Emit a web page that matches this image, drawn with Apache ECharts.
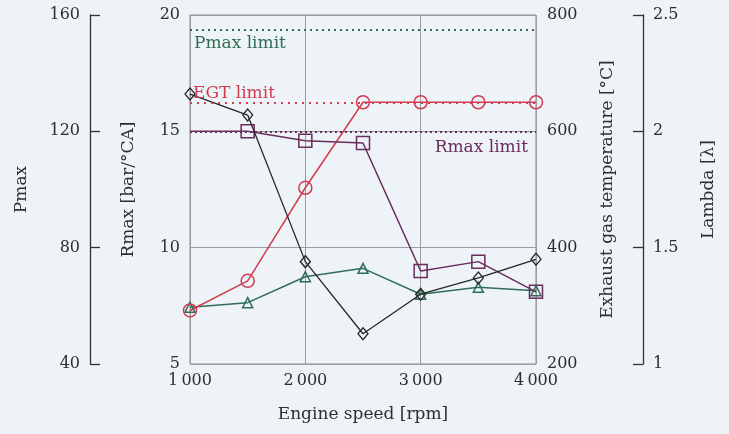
<!DOCTYPE html>
<html>
<head>
<meta charset="utf-8">
<script src="https://cdn.jsdelivr.net/npm/echarts@6/dist/echarts.min.js"></script>
<style>
  html, body { margin: 0; padding: 0; background: #eef3f8; }
  #chart { width: 729px; height: 434px; }
</style>
</head>
<body>
<div id="chart"></div>
<script>
// Engine operating map: peak pressure, pressure rise rate, exhaust temperature and lambda
const engineSpeed = [1000, 1500, 2000, 2500, 3000, 3500, 4000];
const pmax   = [59.5, 61.1, 70.0, 72.9, 64.0, 66.4, 65.2];
const rmax   = [15.0, 15.0, 14.6, 14.5, 9.0, 9.4, 8.1];
const egt    = [292, 343, 503, 650, 650, 650, 650];
const lambda = [2.16, 2.07, 1.44, 1.13, 1.30, 1.37, 1.45];

const pmaxLimit = 155;
const egtLimit = 650;
const rmaxLimit = 15;

const speedTicks = [1000, 2000, 3000, 4000];

const FONT = 'DejaVu Serif';
const TEXT = '#2e2e2e';
const RED = '#d23c52';
const GREEN = '#2f6e55';
const PURPLE = '#6a2c5c';
const BLACK = '#262626';
const GRID = '#9c9c9c';

const pairs = vals => engineSpeed.map((s, i) => [s, vals[i]]);
const fmtSpeed = v => String(v).replace(/\B(?=(\d{3})+$)/, '\u2009');

const tickLabel = { fontFamily: FONT, fontSize: 16, color: TEXT };
const nameLabel = { fontFamily: FONT, fontSize: 17, color: TEXT };

function limitLine(value, color, text, position, dash, distance) {
  return {
    silent: true,
    symbol: ['none', 'none'],
    lineStyle: { color: color, type: dash, width: 2, opacity: 1 },
    label: {
      show: true, position: position, formatter: text,
      fontFamily: FONT, fontSize: 17, color: color, distance: distance
    },
    data: [{ yAxis: value }]
  };
}

const chart = echarts.init(document.getElementById('chart'), null, { renderer: 'canvas' });
chart.setOption({
  backgroundColor: '#eef3f8',
  animation: false,
  grid: { left: 190, right: 193, top: 15, bottom: 70, show: true, borderColor: '#8a8a8a', borderWidth: 1, backgroundColor: 'transparent' },
  xAxis: {
    type: 'value', min: speedTicks[0], max: speedTicks[speedTicks.length - 1], interval: 1000,
    name: 'Engine speed [rpm]', nameLocation: 'middle', nameGap: 42,
    nameTextStyle: nameLabel,
    axisLine: { show: false }, axisTick: { show: false },
    axisLabel: Object.assign({ margin: 9, formatter: fmtSpeed }, tickLabel),
    splitLine: { show: true, lineStyle: { color: GRID, width: 1 } }
  },
  yAxis: [
    { // Rmax, on the plot frame
      type: 'value', position: 'left', min: 5, max: 20, interval: 5,
      name: 'Rmax [bar/°CA]', nameLocation: 'middle', nameGap: 53, nameRotate: 90,
      nameTextStyle: nameLabel,
      axisLine: { show: false }, axisTick: { show: false },
      axisLabel: Object.assign({ margin: 10 }, tickLabel),
      splitLine: { show: true, lineStyle: { color: GRID, width: 1 } }
    },
    { // Pmax, offset outer left axis
      type: 'value', position: 'left', offset: 100, min: 40, max: 160, interval: 40,
      name: 'Pmax', nameLocation: 'middle', nameGap: 60, nameRotate: 90,
      nameTextStyle: nameLabel,
      axisLine: { show: true, onZero: false, lineStyle: { color: '#333', width: 1.3 } },
      axisTick: { show: true, inside: true, length: 10, lineStyle: { color: '#333', width: 1.3 } },
      axisLabel: Object.assign({ margin: 10 }, tickLabel),
      splitLine: { show: false }
    },
    { // Exhaust gas temperature, on the plot frame
      type: 'value', position: 'right', min: 200, max: 800, interval: 200,
      name: 'Exhaust gas temperature [°C]', nameLocation: 'middle', nameGap: 63, nameRotate: 90,
      nameTextStyle: nameLabel,
      axisLine: { show: false }, axisTick: { show: false },
      axisLabel: Object.assign({ margin: 11 }, tickLabel),
      splitLine: { show: false }
    },
    { // Lambda, offset outer right axis
      type: 'value', position: 'right', offset: 107, min: 1, max: 2.5, interval: 0.5,
      name: 'Lambda [λ]', nameLocation: 'middle', nameGap: 57, nameRotate: 90,
      nameTextStyle: nameLabel,
      axisLine: { show: true, onZero: false, lineStyle: { color: '#333', width: 1.3 } },
      axisTick: { show: true, inside: true, length: 10, lineStyle: { color: '#333', width: 1.3 } },
      axisLabel: Object.assign({ margin: 10 }, tickLabel),
      splitLine: { show: false }
    }
  ],
  series: [
    {
      name: 'Pmax', type: 'line', yAxisIndex: 1, data: pairs(pmax),
      symbol: 'triangle', symbolSize: 10,
      lineStyle: { color: GREEN, width: 1.5 },
      itemStyle: { color: 'rgba(0,0,0,0)', borderColor: GREEN, borderWidth: 1.5 },
      markLine: limitLine(pmaxLimit, GREEN, 'Pmax limit', 'insideStartBottom', [2, 4], [4, 6]),
      z: 3
    },
    {
      name: 'EGT', type: 'line', yAxisIndex: 2, data: pairs(egt),
      symbol: 'circle', symbolSize: 13,
      lineStyle: { color: RED, width: 1.5 },
      itemStyle: { color: 'rgba(0,0,0,0)', borderColor: RED, borderWidth: 1.5 },
      markLine: limitLine(egtLimit, RED, 'EGT limit', 'insideStartTop', [2, 5], [3, 0]),
      z: 3
    },
    {
      name: 'Rmax', type: 'line', yAxisIndex: 0,
      data: pairs(rmax).map((p, i) => i === 0 ? { value: p, symbol: 'none' } : p),
      symbol: 'rect', symbolSize: 13,
      lineStyle: { color: PURPLE, width: 1.5 },
      itemStyle: { color: 'rgba(0,0,0,0)', borderColor: PURPLE, borderWidth: 1.5 },
      markLine: limitLine(rmaxLimit, PURPLE, 'Rmax limit', 'insideEndBottom', [2, 3], [8, 8]),
      z: 3
    },
    {
      name: 'Lambda', type: 'line', yAxisIndex: 3, data: pairs(lambda),
      symbol: 'diamond', symbolSize: [10, 12],
      lineStyle: { color: BLACK, width: 1.3 },
      itemStyle: { color: 'rgba(0,0,0,0)', borderColor: BLACK, borderWidth: 1.3 },
      z: 4
    }
  ]
});
</script>
</body>
</html>
